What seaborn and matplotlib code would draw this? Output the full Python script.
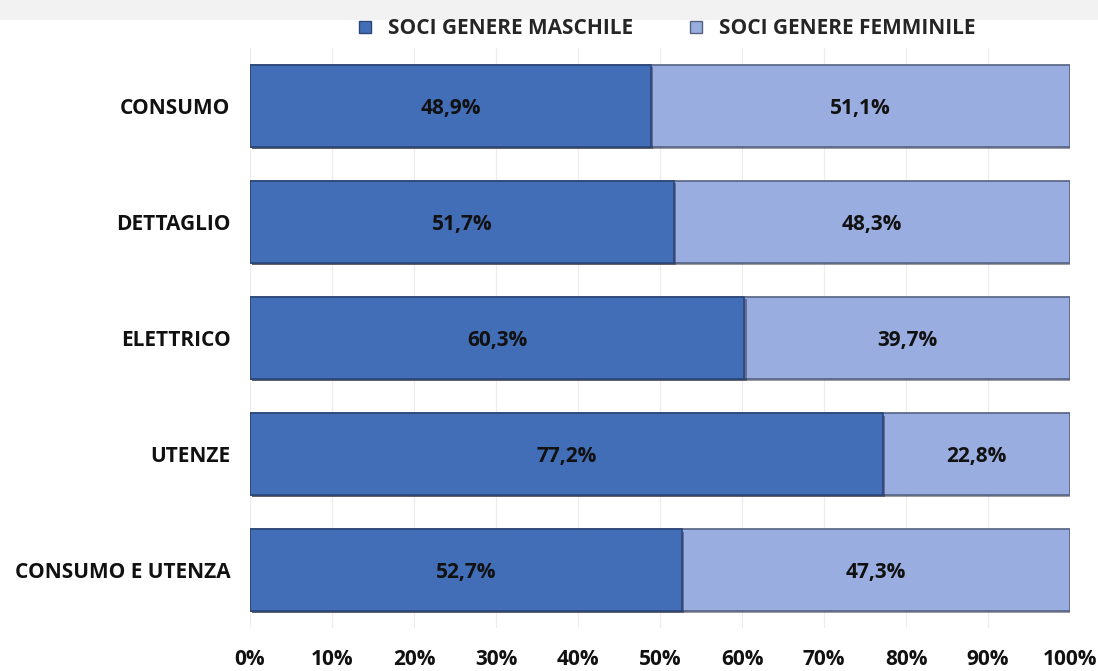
import matplotlib
matplotlib.use("Agg")
import matplotlib.pyplot as plt
import matplotlib.patheffects as pe
import seaborn as sns
import pandas as pd
from matplotlib.patches import Rectangle
from matplotlib.lines import Line2D

categories = ["CONSUMO", "DETTAGLIO", "ELETTRICO", "UTENZE", "CONSUMO E UTENZA"]
maschile = [48.9, 51.7, 60.3, 77.2, 52.7]
femminile = [51.1, 48.3, 39.7, 22.8, 47.3]
xticks = [0, 10, 20, 30, 40, 50, 60, 70, 80, 90, 100]
series_names = ["SOCI GENERE MASCHILE", "SOCI GENERE FEMMINILE"]

dark = "#426EB8"
light = "#9AADE0"

sns.set_theme(style="white")
plt.rcParams['font.family'] = ['Open Sans', 'DejaVu Sans']

df = pd.DataFrame({"cat": categories, "m": maschile, "f": femminile})
df["tot"] = df["m"] + df["f"]

fig = plt.figure(figsize=(10.98, 6.71), dpi=100)
fig.patches.append(Rectangle((0, 0.97), 1, 0.03, transform=fig.transFigure,
                             facecolor="#f2f2f2", edgecolor="none", zorder=0))
ax = fig.add_axes([0.2277, 0.064, 0.7468, 0.8645])

sns.barplot(data=df, x="tot", y="cat", orient="h", color=light, width=0.7,
            saturation=1, edgecolor="#55627f", linewidth=1.2, ax=ax, zorder=3)
sns.barplot(data=df, x="m", y="cat", orient="h", color=dark, width=0.7,
            saturation=1, edgecolor="#2a4677", linewidth=1.2, ax=ax, zorder=4)

for p in ax.patches:
    p.set_path_effects([pe.SimplePatchShadow(offset=(1.5, -1.5), shadow_rgbFace="#223",
                                             alpha=0.45), pe.Normal()])

fs = 15
for i, (m, f) in enumerate(zip(maschile, femminile)):
    ax.text(m / 2, i + 0.02, f"{m:.1f}%".replace(".", ","), ha="center", va="center",
            fontsize=fs, fontweight="bold", color="#111111", zorder=5)
    ax.text(m + f / 2, i + 0.02, f"{f:.1f}%".replace(".", ","), ha="center", va="center",
            fontsize=fs, fontweight="bold", color="#111111", zorder=5)

ax.set_xlim(0, 100)
ax.set_ylim(4.5, -0.5)
ax.set_xticks(xticks)
ax.set_xticklabels([f"{t}%" for t in xticks], fontsize=fs, fontweight="bold")
ax.set_yticklabels(categories, fontsize=fs, fontweight="bold")
ax.tick_params(axis="x", length=0, pad=15, colors="#111111")
ax.tick_params(axis="y", length=0, pad=14, colors="#111111")
ax.set_xlabel("")
ax.set_ylabel("")
ax.grid(axis="x", color="#ececec", linewidth=0.8, zorder=0)
ax.set_axisbelow(True)
for s in ax.spines.values():
    s.set_visible(False)

handles = [Line2D([], [], marker="s", linestyle="none", markersize=9,
                  markerfacecolor=dark, markeredgecolor="#2a4677"),
           Line2D([], [], marker="s", linestyle="none", markersize=9,
                  markerfacecolor=light, markeredgecolor="#55627f")]
fig.legend(handles, series_names, loc="center", bbox_to_anchor=(0.601, 0.957),
           ncol=2, frameon=False, handletextpad=0.1, columnspacing=2.0,
           prop={"weight": "bold", "size": fs})

fig.savefig("out.png", dpi=100)
